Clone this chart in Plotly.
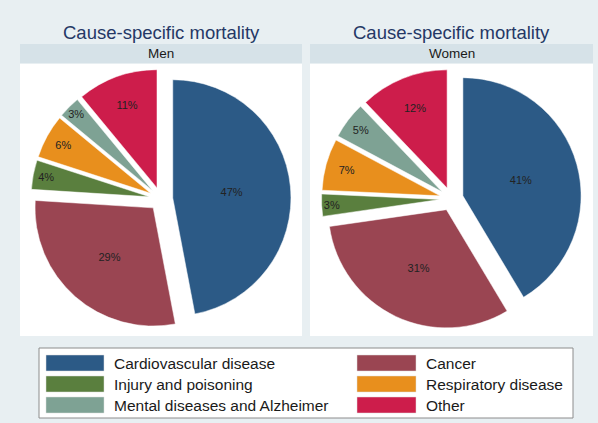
import plotly.graph_objects as go

categories = ["Cardiovascular disease", "Cancer", "Injury and poisoning",
              "Respiratory disease", "Mental diseases and Alzheimer", "Other"]
men_values = [47, 29, 4, 6, 3, 11]
women_values = [41, 31, 3, 7, 5, 12]
colors = ["#2c5a86", "#9a4552", "#5a7f3e", "#e88f1d", "#7ea294", "#cd1d4b"]
panel_titles = ["Men", "Women"]
main_title = "Cause-specific mortality"

W, H = 598, 423
BG = "#e8eff2"
STRIP = "#d6e2e8"
FONT = "Liberation Sans, Arial, sans-serif"

# panel pixel boxes (left, right)
panels_x = [(20, 302), (310, 593)]
panel_top, panel_bot = 64, 336
strip_top = 44

def px(x):
    return x / W

def py(y):
    return 1 - y / H

fig = go.Figure()

for (x0, x1), vals, name in zip(panels_x, [men_values, women_values], panel_titles):
    fig.add_trace(go.Pie(
        labels=categories,
        values=vals,
        marker=dict(colors=colors, line=dict(color="white", width=0.5)),
        sort=False,
        direction="clockwise",
        rotation=0,
        pull=[0.1] * len(vals),
        texttemplate="%{value}%",
        textposition="inside",
        insidetextorientation="horizontal",
        textfont=dict(family=FONT, size=11, color="#222222"),
        hoverinfo="label+value",
        showlegend=False,
        domain=dict(x=[px(x0 + 2), px(x1 - 2)], y=[py(329), py(69)]),
        name=name,
    ))
    # white panel
    fig.add_shape(type="rect", xref="paper", yref="paper",
                  x0=px(x0), x1=px(x1), y0=py(panel_bot), y1=py(panel_top),
                  fillcolor="white", line=dict(width=0), layer="below")
    # strip
    fig.add_shape(type="rect", xref="paper", yref="paper",
                  x0=px(x0), x1=px(x1), y0=py(panel_top - 1), y1=py(strip_top),
                  fillcolor=STRIP, line=dict(width=0), layer="below")
    fig.add_annotation(x=px((x0 + x1) / 2), y=py((strip_top + panel_top) / 2 - 0.5),
                       xref="paper", yref="paper", text=name, showarrow=False,
                       font=dict(family=FONT, size=13.5, color="#1a1a1a"),
                       xanchor="center", yanchor="middle")
    fig.add_annotation(x=px((x0 + x1) / 2), y=py(32), xref="paper", yref="paper",
                       text=main_title, showarrow=False,
                       font=dict(family=FONT, size=18.5, color="#253866"),
                       xanchor="center", yanchor="middle")

# legend box
fig.add_shape(type="rect", xref="paper", yref="paper",
              x0=px(39), x1=px(573), y0=py(418), y1=py(348),
              fillcolor="white", line=dict(color="#8c8c8c", width=1), layer="below")
col_sw = [(46, 104), (357, 416)]
row_y = [363, 384, 405]
for i, (cat, col) in enumerate(zip(categories, colors)):
    c, r = i % 2, i // 2
    sx0, sx1 = col_sw[c]
    yc = row_y[r]
    fig.add_shape(type="rect", xref="paper", yref="paper",
                  x0=px(sx0), x1=px(sx1), y0=py(yc + 8), y1=py(yc - 8),
                  fillcolor=col, line=dict(color="#dddddd", width=0.5))
    fig.add_annotation(x=px(sx1 + 8), y=py(yc), xref="paper", yref="paper",
                       text=cat, showarrow=False, xanchor="left", yanchor="middle",
                       font=dict(family=FONT, size=15.5, color="#1a1a1a"))

fig.update_layout(
    width=W, height=H,
    margin=dict(l=0, r=0, t=0, b=0),
    paper_bgcolor=BG,
    plot_bgcolor=BG,
    uniformtext=dict(minsize=11, mode="show"),
)

fig.write_html("out.html", config={"displayModeBar": False},
               post_script="document.body.style.margin='0';document.body.style.overflow='hidden';")
